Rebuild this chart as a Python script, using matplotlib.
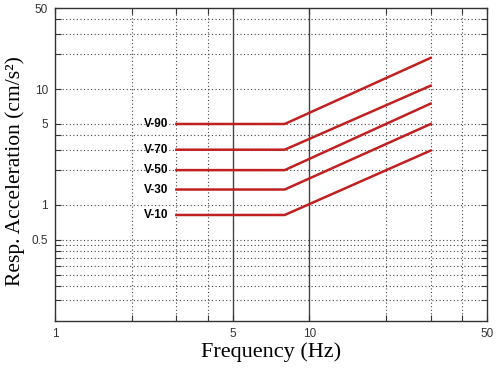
import matplotlib
matplotlib.use('Agg')
import matplotlib.pyplot as plt
from matplotlib.ticker import FixedLocator, NullFormatter

# frequency points of each spectrum (Hz)
freq = [3, 8, 30]

# response acceleration (cm/s^2)
v10 = [0.82, 0.82, 2.95]
v30 = [1.36, 1.36, 5.0]
v50 = [2.0, 2.0, 7.5]
v70 = [3.0, 3.0, 10.7]
v90 = [5.0, 5.0, 18.6]

series_names = ['V-10', 'V-30', 'V-50', 'V-70', 'V-90']
series_values = [v10, v30, v50, v70, v90]

x_labeled = [1, 5, 10, 50]
x_minor = [2, 3, 4, 20, 30, 40]
x_solid = [5, 10]
y_labeled = [0.5, 1, 5, 10, 50]
y_labels = ['0.5', '1', '5', '10', '50']
y_minor = [0.15, 0.2, 0.25, 0.3, 0.35, 0.4, 0.45, 2, 3, 4, 20, 30, 40]
y_grid = [0.15, 0.2, 0.25, 0.3, 0.35, 0.4, 0.45, 0.5, 1, 2, 3, 4, 5, 10, 20, 30, 40]

RED = '#c0201f'
DOT = (0, (1, 2.2))

fig = plt.figure(figsize=(4.96, 3.68), dpi=100)
ax = fig.add_axes([0.111, 0.128, 0.871, 0.850])

ax.set_xscale('log')
ax.set_yscale('log')
ax.set_xlim(1, 50)
ax.set_ylim(0.1, 50)

# grid lines
for gx in x_minor:
    ax.axvline(gx, color='#444444', lw=0.8, ls=DOT, zorder=1)
for gx in x_solid:
    ax.axvline(gx, color='#444444', lw=1.0, zorder=1)
for gy in y_grid:
    ax.axhline(gy, color='#444444', lw=0.8, ls=DOT, zorder=1)

for name, vals in zip(series_names, series_values):
    ax.plot(freq, vals, color=RED, lw=1.8, zorder=3)
    ax.annotate(name, xy=(freq[0], vals[0]), xytext=(-6, 0),
                textcoords='offset points', ha='right', va='center',
                fontsize=8.5, fontweight='bold', family='Liberation Sans',
                color='black')

ax.xaxis.set_major_locator(FixedLocator(x_labeled))
ax.xaxis.set_minor_locator(FixedLocator(x_minor))
ax.set_xticklabels([str(v) for v in x_labeled])
ax.xaxis.set_minor_formatter(NullFormatter())
ax.yaxis.set_major_locator(FixedLocator(y_labeled))
ax.yaxis.set_minor_locator(FixedLocator(y_minor))
ax.set_yticklabels(y_labels)
ax.yaxis.set_minor_formatter(NullFormatter())

ax.tick_params(which='both', direction='in', top=True, right=True,
               length=4, width=0.8, color='#333333')
ax.tick_params(which='major', labelsize=8.5, labelcolor='#333333', pad=5)
for lab in ax.get_xticklabels() + ax.get_yticklabels():
    lab.set_family('Liberation Sans')

for sp in ax.spines.values():
    sp.set_color('#333333')
    sp.set_linewidth(1.0)

ax.set_xlabel('Frequency (Hz)', family='Liberation Serif', fontsize=16, labelpad=2)
ax.set_ylabel('Resp. Acceleration (cm/s²)', family='Liberation Serif',
              fontsize=15.5)
ax.yaxis.set_label_coords(-0.07, 0.48)

fig.savefig('out.png', dpi=100)
